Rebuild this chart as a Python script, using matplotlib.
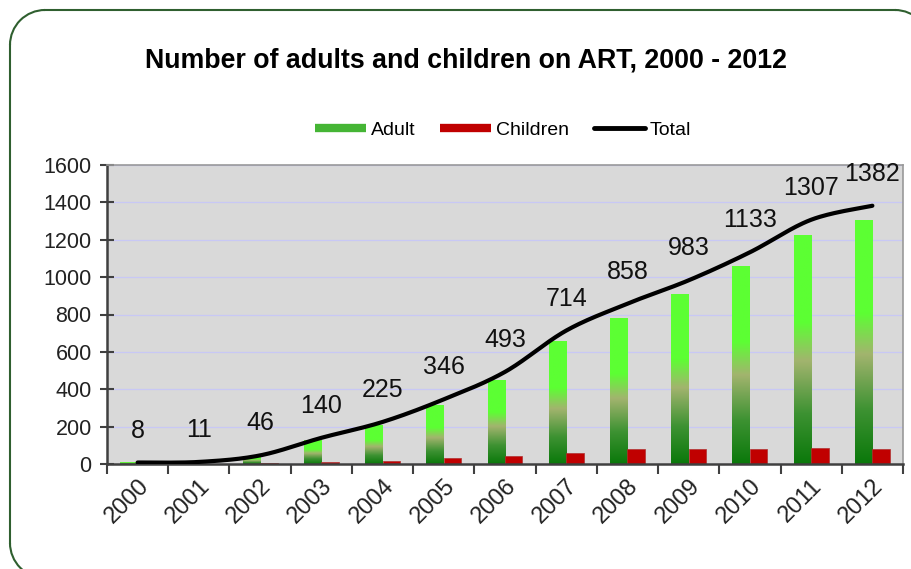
import numpy as np
import matplotlib
matplotlib.use('Agg')
import matplotlib.pyplot as plt
from matplotlib.colors import LinearSegmentedColormap
from matplotlib.lines import Line2D
from matplotlib.patches import Arc

plt.rcParams['font.family'] = ['Liberation Sans', 'DejaVu Sans']

# 数据
years = ['2000', '2001', '2002', '2003', '2004', '2005', '2006',
         '2007', '2008', '2009', '2010', '2011', '2012']
adult = [7, 10, 40, 128, 208, 315, 448, 655, 780, 905, 1055, 1222, 1302]
children = [1, 1, 6, 12, 17, 31, 45, 59, 78, 78, 78, 85, 80]
total = [8, 11, 46, 140, 225, 346, 493, 714, 858, 983, 1133, 1307, 1382]

W, H = 912, 569


def smooth_line(xs, ys, n=30):
    """Catmull-Rom 平滑曲线（类似 Excel 的平滑线）"""
    xs = np.asarray(xs, float)
    ys = np.asarray(ys, float)
    px = np.concatenate([[xs[0]], xs, [xs[-1]]])
    py = np.concatenate([[ys[0]], ys, [ys[-1]]])
    out_x, out_y = [], []
    for i in range(1, len(px) - 2):
        t = np.linspace(0, 1, n)
        # 贝塞尔控制点
        c1x = px[i] + (px[i + 1] - px[i - 1]) / 6
        c1y = py[i] + (py[i + 1] - py[i - 1]) / 6
        c2x = px[i + 1] - (px[i + 2] - px[i]) / 6
        c2y = py[i + 1] - (py[i + 2] - py[i]) / 6
        bx = (1 - t) ** 3 * px[i] + 3 * (1 - t) ** 2 * t * c1x + 3 * (1 - t) * t ** 2 * c2x + t ** 3 * px[i + 1]
        by = (1 - t) ** 3 * py[i] + 3 * (1 - t) ** 2 * t * c1y + 3 * (1 - t) * t ** 2 * c2y + t ** 3 * py[i + 1]
        out_x.extend(bx)
        out_y.extend(by)
    return np.array(out_x), np.array(out_y)


def fx(px_):
    return px_ / W


def fy(py_):
    return 1 - py_ / H


fig = plt.figure(figsize=(W / 100, H / 100), dpi=100)

# 外框（圆角），只画图片内可见的部分
frame_color = '#2f5f2f'
r = 35
fig.add_artist(Line2D([fx(45), fx(895)], [fy(10), fy(10)], color=frame_color, lw=1.5))
fig.add_artist(Line2D([fx(10), fx(10)], [fy(45), fy(543)], color=frame_color, lw=1.5))
for (cx, cy, a1, a2) in [(45, 45, 90, 180), (45, 543, 180, 270), (895, 45, 0, 90)]:
    fig.add_artist(Arc((fx(cx), fy(cy)), 2 * r / W, 2 * r / H, theta1=a1, theta2=a2,
                       transform=fig.transFigure, color=frame_color, lw=1.5))

ax = fig.add_axes([fx(107), fy(464), (903 - 107) / W, (464 - 165) / H])
ax.set_facecolor('#d9d9d9')

x = np.arange(len(years))
w = 0.285

# 成人柱状图（渐变色）
adult_cmap = LinearSegmentedColormap.from_list(
    'adult', [(0, '#0a780a'), (0.22, '#3d9232'), (0.45, '#a2b46e'), (0.62, '#5cff33'), (1, '#5cff33')])
grad = np.linspace(0, 1, 256).reshape(-1, 1)
adult_bars = ax.bar(x - w / 2, adult, width=w, color='none', zorder=2)
for bar in adult_bars:
    x0, bw, h = bar.get_x(), bar.get_width(), bar.get_height()
    ax.imshow(grad, cmap=adult_cmap, extent=[x0, x0 + bw, 0, h], origin='lower',
              aspect='auto', zorder=2, interpolation='bilinear')

# 儿童柱状图
ax.bar(x + w / 2, children, width=w, color='#c00000', edgecolor='#b03030', linewidth=0.5, zorder=2)

# 总数平滑曲线
sx, sy = smooth_line(x, total)
ax.plot(sx, sy, color='black', linewidth=3, solid_capstyle='round', zorder=3)

# 数据标签
for xi, v in zip(x, total):
    ax.annotate(str(v), (xi, v), xytext=(0, 23), textcoords='offset points',
                ha='center', va='center', fontsize=18, color='#111111', zorder=4)

ax.set_xlim(-0.5, len(years) - 0.5)
ax.set_ylim(0, 1600)
ax.set_yticks(range(0, 1601, 200))
ax.set_xticks(np.arange(-0.5, len(years), 1), minor=False)
ax.set_xticklabels([])
ax.set_xticks(x, minor=True)
ax.set_xticklabels(years, minor=True, rotation=45, ha='right', va='top',
                   rotation_mode='anchor', fontsize=17, color='#222222')
ax.tick_params(axis='x', which='minor', length=0, pad=8)
ax.tick_params(axis='x', which='major', length=7, width=1.5, color='#404040', direction='out')
ax.tick_params(axis='y', length=10, width=1.5, color='#404040', direction='inout',
               labelsize=15.5, labelcolor='#222222', pad=6)

ax.grid(axis='y', color='#c8c8f5', linewidth=0.9)
ax.set_axisbelow(True)
for side in ['left', 'bottom']:
    ax.spines[side].set_color('#404040')
    ax.spines[side].set_linewidth(1.8)
for side in ['top', 'right']:
    ax.spines[side].set_color('#999999')
    ax.spines[side].set_linewidth(1.2)

# 标题
fig.text(fx(466), fy(60), 'Number of adults and children on ART, 2000 - 2012',
         ha='center', va='center', fontsize=19.3, fontweight='bold')

# 图例
handles = [Line2D([], [], color='#45b535', linewidth=6, solid_capstyle='butt'),
           Line2D([], [], color='#c00000', linewidth=6, solid_capstyle='butt'),
           Line2D([], [], color='black', linewidth=3.5, solid_capstyle='round')]
fig.legend(handles, ['Adult', 'Children', 'Total'], loc='center',
           bbox_to_anchor=(fx(503), fy(130)), ncol=3, frameon=False,
           fontsize=14, handlelength=2.6, handletextpad=0.25, columnspacing=1.3)

plt.savefig('out.png', dpi=100, facecolor='white')
